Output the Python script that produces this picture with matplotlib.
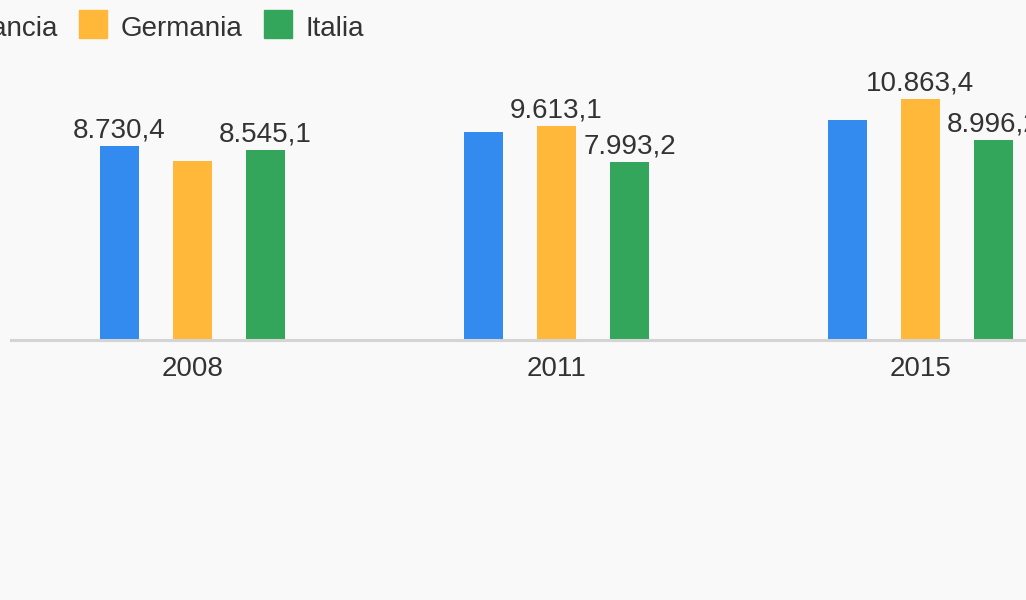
import matplotlib.pyplot as plt
import numpy as np
from matplotlib.patches import Rectangle

plt.rcParams['font.family'] = ['Liberation Sans', 'DejaVu Sans']

# --- data ---
years = ['2008', '2011', '2015']
series = ['Francia', 'Germania', 'Italia']
francia = [8730.4, 9370.0, 9900.0]
germania = [8060.0, 9613.1, 10863.4]
italia = [8545.1, 7993.2, 8996.2]
# which value labels the original shows (the others were hidden for overlap)
show_francia = [True, False, False]
show_germania = [False, True, True]
show_italia = [True, True, True]

colors = ['#338bf0', '#ffb83a', '#33a65b']
bg = '#f9f9f9'
txt = '#333333'
fs = 20

W, H = 1026, 600
fig = plt.figure(figsize=(W / 100, H / 100), dpi=100, facecolor=bg)

# axes geometry in pixels (chart is cropped on both sides)
left_px, base_px, top_px = 10.5, 339.5, 39.5
ax = fig.add_axes([left_px / W, (H - base_px) / H, 1 - left_px / W, (base_px - top_px) / H])
ax.set_facecolor(bg)

group_px = 364.0
first_px = 192.5
ax.set_xlim((left_px - first_px) / group_px, (W - first_px) / group_px)
ax.set_ylim(0, (base_px - top_px) / 0.02218)

x = np.arange(len(years))
bw = 39 / group_px
off = 73 / group_px

all_vals = [francia, germania, italia]
all_show = [show_francia, show_germania, show_italia]
for i, (vals, shows) in enumerate(zip(all_vals, all_show)):
    xs = x + (i - 1) * off
    ax.bar(xs, vals, width=bw, color=colors[i], zorder=2)
    for xi, v, s in zip(xs, vals, shows):
        if s:
            lab = f'{v:,.1f}'.replace(',', 'X').replace('.', ',').replace('X', '.')
            ax.annotate(lab, (xi, v), xytext=(0, 6), textcoords='offset points',
                        ha='center', va='baseline', fontsize=fs, color=txt,
                        annotation_clip=False)

ax.axhline(0, color='#d4d4d4', lw=2.2, zorder=3, clip_on=False)

for s in ax.spines.values():
    s.set_visible(False)
ax.set_yticks([])
ax.set_xticks(x)
ax.set_xticklabels(years, fontsize=fs, color=txt)
ax.tick_params(axis='x', length=0, pad=12)

# --- legend, drawn by hand because it runs off the left edge ---
def fx(px):
    return px / W


def fy(py):
    return 1 - py / H


sq = 28
legend_text_end = 58
fig.text(fx(legend_text_end), fy(36), series[0], ha='right', va='baseline',
         fontsize=fs, color=txt)
fig.patches.append(Rectangle((fx(79), fy(10 + sq)), fx(sq), sq / H,
                             transform=fig.transFigure, color=colors[1]))
fig.text(fx(121), fy(36), series[1], ha='left', va='baseline', fontsize=fs, color=txt)
fig.patches.append(Rectangle((fx(264), fy(10 + sq)), fx(sq), sq / H,
                             transform=fig.transFigure, color=colors[2]))
fig.text(fx(306), fy(36), series[2], ha='left', va='baseline', fontsize=fs, color=txt)

fig.savefig('out.png', dpi=100, facecolor=bg)
